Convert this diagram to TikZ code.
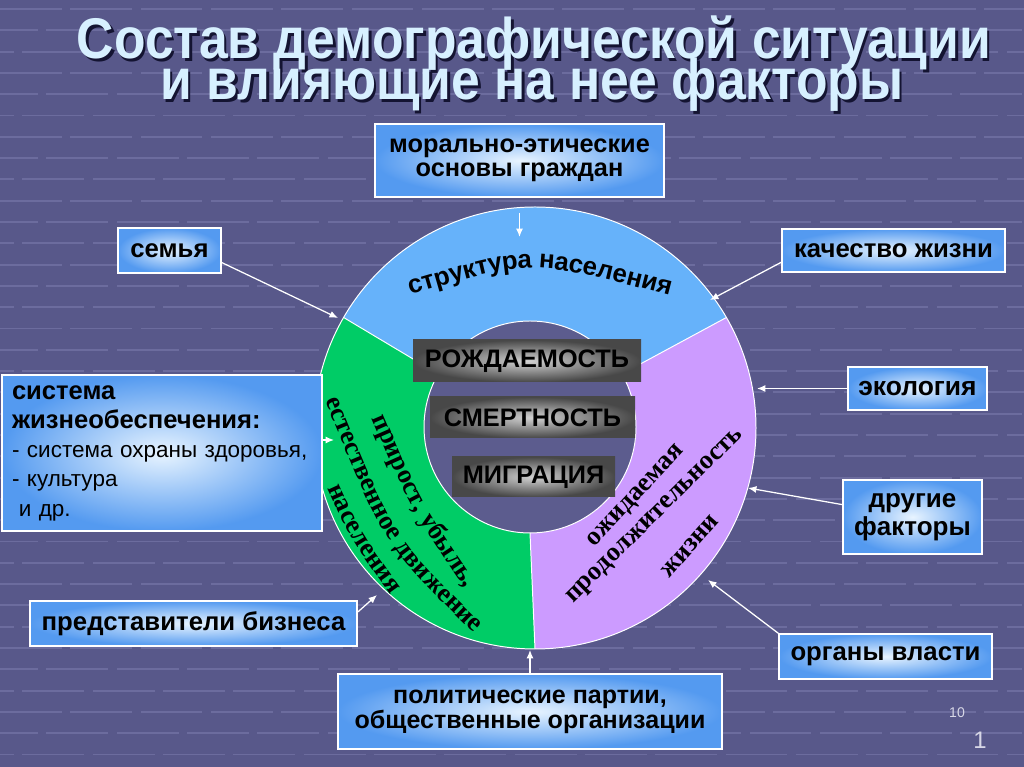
\documentclass[tikz,border=0pt]{standalone}
\usepackage{fontspec}
\setmainfont{Liberation Sans}
\newfontfamily\timesfont{Liberation Serif}
\newfontfamily\titlefont{Liberation Sans}[FakeStretch=0.9]
\usetikzlibrary{decorations.text,calc,arrows.meta}
\newlength{\upx}
\setlength{\upx}{0.025cm}
\definecolor{bg}{RGB}{88,88,138}
\definecolor{bgline}{RGB}{108,108,158}
\definecolor{innerbg}{RGB}{92,92,142}
\definecolor{boxin}{RGB}{232,244,255}
\definecolor{boxout}{RGB}{84,154,240}
\definecolor{ringblue}{RGB}{102,178,250}
\definecolor{ringgreen}{RGB}{0,204,102}
\definecolor{ringpurple}{RGB}{204,155,255}
\definecolor{titlec}{RGB}{215,240,255}
\definecolor{titleshadow}{RGB}{20,20,50}
\definecolor{greyin}{RGB}{210,210,210}
\definecolor{greyout}{RGB}{72,72,72}
\definecolor{pgnum}{RGB}{215,215,230}
\newcommand\ringfont{\bfseries\fontsize{18.3}{18.3}\selectfont}
\newcommand\greenfont{\timesfont\bfseries\fontsize{18.8}{18.8}\selectfont}
\begin{document}
\begin{tikzpicture}[x=0.025cm,y=0.025cm,
  box/.style={draw=white, line width=1.1pt, inner sep=0pt, align=center,
    inner color=boxin, outer color=boxout, text=black},
  boxtext/.style={font=\bfseries\fontsize{18.3}{18.3}\selectfont},
  lab/.style={inner sep=0pt, inner color=greyin, outer color=greyout, text=black,
    font=\bfseries\fontsize{18}{18}\selectfont},
  arr/.style={draw=white, line width=0.9pt, -{Latex[length=6pt,width=5pt]}},
  titlest/.style={text=titlec, font=\titlefont\bfseries\fontsize{40.8}{40.8}\selectfont, inner sep=0pt, anchor=base},
  titlesh/.style={text=titleshadow, font=\titlefont\bfseries\fontsize{40.8}{40.8}\selectfont, inner sep=0pt, anchor=base},
  divider/.style={draw=white, line width=0.7pt}
]
\useasboundingbox (0,0) rectangle (1024,767);
% background
\fill[bg] (0,0) rectangle (1024,767);
\foreach \k in {0,...,35}{
  \pgfmathsetmacro\yy{758-21.3*\k}
  \pgfmathsetmacro\ph{mod(\k,3)*17}
  \draw[bgline, line width=1.4pt, dash pattern=on 44pt off 6pt, dash phase=\ph pt] (0,\yy) -- (1024,\yy);
}
% title
\node[titlesh] (t1s) at (536.5,705.5) {Состав демографической ситуации};
\node[titlest] (t1) at (534,708) {Состав демографической ситуации};
\node[titlesh] (t2s) at (534.5,664.5) {и влияющие на нее факторы};
\node[titlest] (t2) at (532,667) {и влияющие на нее факторы};
% ring
\coordinate (O) at (535,339);
\coordinate (I) at (530,340);
\def\Ro{221}
\def\Ri{106}
\fill[ringblue] ($(O)+(30:\Ro)$) arc[start angle=30, end angle=150, radius=\Ro] -- ($(I)+(150:\Ri)$) arc[start angle=150, end angle=30, radius=\Ri] -- cycle;
\fill[ringgreen] ($(O)+(150:\Ro)$) arc[start angle=150, end angle=270, radius=\Ro] -- ($(I)+(270:\Ri)$) arc[start angle=270, end angle=150, radius=\Ri] -- cycle;
\fill[ringpurple] ($(O)+(270:\Ro)$) arc[start angle=270, end angle=390, radius=\Ro] -- ($(I)+(30:\Ri)$) arc[start angle=30, end angle=-90, radius=\Ri] -- cycle;
\draw[divider] (O) circle[radius=\Ro];
\draw[divider, fill=innerbg] (I) circle[radius=\Ri];
\draw[divider] ($(I)+(30:\Ri)$) -- ($(O)+(30:\Ro)$);
\draw[divider] ($(I)+(150:\Ri)$) -- ($(O)+(150:\Ro)$);
\draw[divider] ($(I)+(270:\Ri)$) -- ($(O)+(270:\Ro)$);
% inner labels
\node[lab, minimum width=228\upx, minimum height=42\upx] (rozh) at (527,406) {РОЖДАЕМОСТЬ};
\node[lab, minimum width=205\upx, minimum height=41\upx] (smert) at (532.5,349.5) {СМЕРТНОСТЬ};
\node[lab, minimum width=163\upx, minimum height=40\upx] (migr) at (533.5,290) {МИГРАЦИЯ};
% curved texts
\coordinate (s0) at (413,480); \coordinate (sc) at (530,514.5); \coordinate (s2) at (667,479);
\path[decorate, decoration={text along path, text align=center, raise=-4.8pt,
  text={|\ringfont|структура населения}}]
  ($(s0)!-30pt!(sc)$) -- (s0) .. controls (sc) .. (s2) -- ($(s2)!-30pt!(sc)$);
\coordinate (a0) at (380,346); \coordinate (ac) at (416.5,261.5); \coordinate (a2) at (467,187);
\path[decorate, decoration={text along path, text align=center, raise=-4.4pt,
  text={|\greenfont|прирост, убыль,}}]
  ($(a0)!-30pt!(ac)$) -- (a0) .. controls (ac) .. (a2) -- ($(a2)!-30pt!(ac)$);
\coordinate (b0) at (333,364); \coordinate (bc) at (390,225); \coordinate (b2) at (475,142);
\path[decorate, decoration={text along path, text align=center, raise=-4.4pt,
  text={|\greenfont|естественное движение}}]
  ($(b0)!-30pt!(bc)$) -- (b0) .. controls (bc) .. (b2) -- ($(b2)!-30pt!(bc)$);
\coordinate (c0) at (335,277); \coordinate (cc) at (356,231.5); \coordinate (c2) at (393,180);
\path[decorate, decoration={text along path, text align=center, raise=-4.4pt,
  text={|\greenfont|населения}}]
  ($(c0)!-30pt!(cc)$) -- (c0) .. controls (cc) .. (c2) -- ($(c2)!-30pt!(cc)$);
\coordinate (d0) at (595,229); \coordinate (d2) at (675,315);
\path[decorate, decoration={text along path, text align=center, raise=-4.4pt,
  text={|\greenfont|ожидаемая}}]
  ($(d0)!-30pt!(d2)$) -- ($(d2)!-30pt!(d0)$);
\coordinate (e0) at (578,177); \coordinate (e2) at (730,327);
\path[decorate, decoration={text along path, text align=center, raise=-4.4pt,
  text={|\greenfont|продолжительность}}]
  ($(e0)!-30pt!(e2)$) -- ($(e2)!-30pt!(e0)$);
\coordinate (f0) at (667,195); \coordinate (f2) at (713,247);
\path[decorate, decoration={text along path, text align=center, raise=-4.4pt,
  text={|\greenfont|жизни}}]
  ($(f0)!-30pt!(f2)$) -- ($(f2)!-30pt!(f0)$);
% boxes
\node[box, minimum width=289\upx, minimum height=73\upx, font=\bfseries\fontsize{18}{17.2}\selectfont] (moral) at (519.5,606.5) {морально-этические\\основы граждан};
\node[box, boxtext, minimum width=103\upx, minimum height=45\upx] (semya) at (169.5,516.5) {семья};
\node[box, boxtext, minimum width=223\upx, minimum height=43\upx] (kach) at (893.5,516.5) {качество жизни};
\node[box, minimum width=139\upx, minimum height=43\upx, font=\bfseries\fontsize{18.8}{18.8}\selectfont] (ekol) at (917.5,378.5) {экология};
\node[box, minimum width=320\upx, minimum height=156\upx, text width=300\upx, inner xsep=10\upx, align=left, font=\fontsize{16}{20.8}\selectfont] (sist) at (162,314)
  {{\bfseries\fontsize{18.2}{20.8}\selectfont система}\\{\bfseries\fontsize{18.2}{20.8}\selectfont жизнеобеспечения:}\\- система охраны здоровья,\\- культура\\\hspace{0.3em}и др.};
\node[box, minimum width=139\upx, minimum height=74\upx, font=\bfseries\fontsize{18.5}{20}\selectfont] (drug) at (912.5,250) {другие\\факторы};
\node[box, boxtext, minimum width=213\upx, minimum height=45\upx] (organ) at (885.5,110.5) {органы власти};
\node[box, boxtext, minimum width=327\upx, minimum height=45\upx] (biz) at (193.5,143.5) {представители бизнеса};
\node[box, minimum width=384\upx, minimum height=75\upx, font=\bfseries\fontsize{17.8}{16.6}\selectfont] (polit) at (530,55.5) {политические партии,\\общественные организации};
% arrow ends
\coordinate (e1) at (519.5,530);
\coordinate (e2r) at (338,449);
\coordinate (e3) at (710,467);
\coordinate (e4) at (757,378.5);
\coordinate (e5) at (334,327);
\coordinate (e6) at (748,279);
\coordinate (e7) at (708,187);
\coordinate (e8) at (377,172);
\coordinate (e9) at (530,117);
\draw[arr, shorten <=11pt] (moral.south) -- (e1);
\draw[arr] (semya.-13) -- (e2r);
\draw[arr] (kach.186) -- (e3);
\draw[arr] (ekol.west) -- (e4);
\draw[arr] (sist.east |- e5) -- (e5);
\draw[arr] (drug.170) -- (e6);
\draw[arr] (organ.north west) -- (e7);
\draw[arr] (biz.4) -- (e8);
\draw[arr] (polit.north) -- (e9);
% page numbers
\node[text=pgnum, font=\fontsize{10}{10}\selectfont, inner sep=0pt] (pg10) at (957,54) {10};
\node[text=pgnum, font=\fontsize{17}{17}\selectfont, inner sep=0pt] (pg1) at (980,27) {1};
\end{tikzpicture}
\end{document}
